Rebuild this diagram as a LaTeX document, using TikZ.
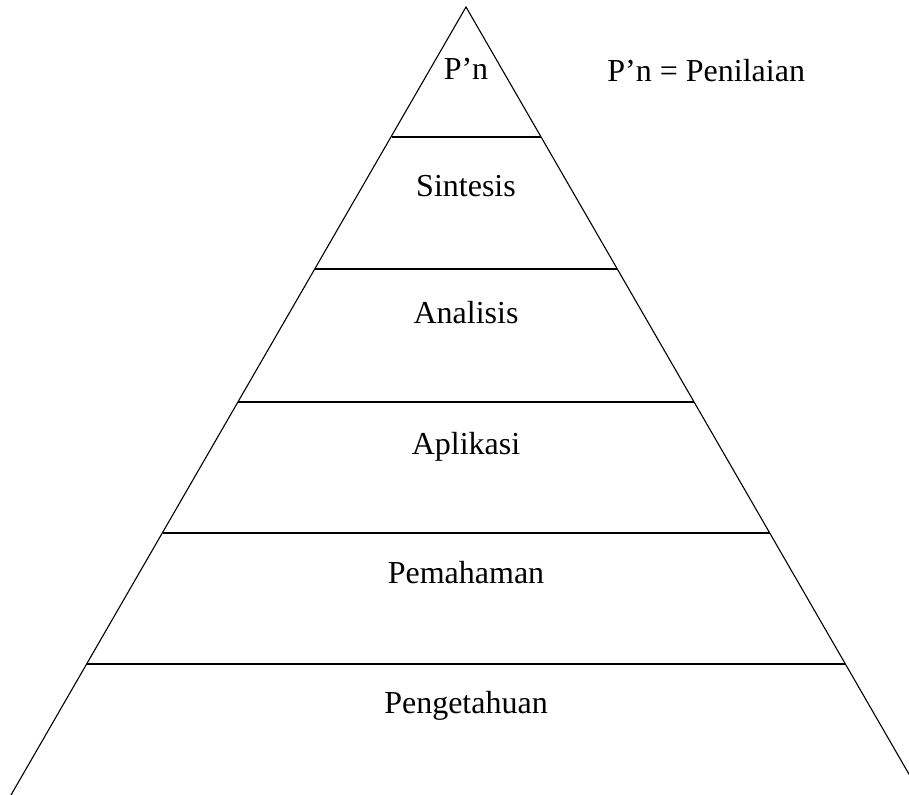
\documentclass[tikz,border=0pt]{standalone}
\usepackage{fontspec}
\setmainfont{Liberation Serif}
\begin{document}
\begin{tikzpicture}[x=0.5pt,y=-0.5pt,
  lbl/.style={anchor=base,inner sep=0pt,font=\fontsize{16}{19}\selectfont},
  edge/.style={line width=0.55pt,black}]
\useasboundingbox (0,0) rectangle (909,795);
\clip (0,0) rectangle (909,795);
\coordinate (apex) at (466,7);
\coordinate (bl) at (11,795);
\coordinate (br) at (921,795);
\draw[edge] (bl) -- (apex) -- (br);
\foreach \yy/\xl/\xr in {137/392/541, 269/315/617, 402/238/694, 533/163/770, 664/87/845}{
  \draw[edge] (\xl,\yy) -- (\xr,\yy);
}
\node[lbl] (pn) at (466,80) {P’n};
\node[lbl,anchor=base west] (leg) at (607,82) {P’n = Penilaian};
\node[lbl] (sin) at (466,197) {Sintesis};
\node[lbl] (ana) at (466,324) {Analisis};
\node[lbl] (apl) at (466,455) {Aplikasi};
\node[lbl] (pem) at (466,583) {Pemahaman};
\node[lbl] (pen) at (466,713) {Pengetahuan};
\end{tikzpicture}
\end{document}
